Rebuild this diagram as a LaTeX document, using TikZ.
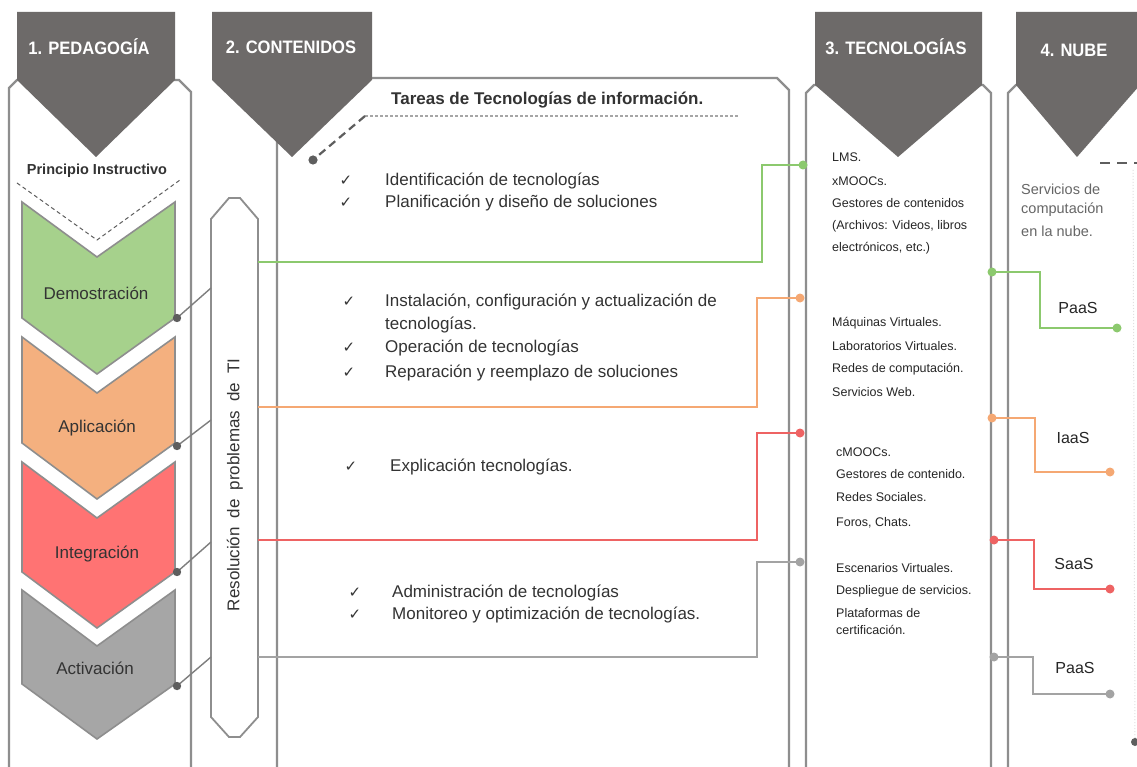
\documentclass[tikz,border=0pt]{standalone}
\usepackage{fontspec}
\setmainfont{Liberation Sans}
\newfontfamily\symfont{DejaVu Sans}
\newfontfamily\condfont[FakeStretch=0.92]{Liberation Sans}
\definecolor{hdr}{HTML}{6D6A69}
\definecolor{frm}{HTML}{8E8E8E}
\definecolor{cgreen}{HTML}{A6D18C}
\definecolor{corange}{HTML}{F4B07F}
\definecolor{cred}{HTML}{FF7373}
\definecolor{cgray}{HTML}{A6A6A6}
\definecolor{lgreen}{HTML}{8CC96E}
\definecolor{lorange}{HTML}{F5A873}
\definecolor{lred}{HTML}{EE6363}
\definecolor{lgray}{HTML}{A3A3A3}
\definecolor{txt}{HTML}{333333}
\definecolor{dk}{HTML}{5E5E5E}
\tikzset{
  frame/.style={draw=frm, line width=2.2pt},
  header/.style={fill=hdr, draw=none},
  htext/.style={text=white, font=\condfont\fontsize{18}{20}\selectfont\bfseries, inner sep=0pt},
  chevron/.style={draw=frm, line width=1.6pt},
  clabel/.style={text=txt, font=\fontsize{17}{19}\selectfont, inner sep=0pt},
  pill/.style={draw=frm, line width=1.8pt, fill=white},
  tline/.style={line width=2.2pt},
  item/.style={text=txt, font=\fontsize{17}{19}\selectfont, anchor=west, inner sep=0pt},
  chk/.style={text=txt, font=\symfont\fontsize{15}{17}\selectfont, inner sep=0pt},
  tech/.style={text=black!85, font=\fontsize{12.5}{14}\selectfont, anchor=west, inner sep=0pt},
  nube/.style={text=black!60, font=\fontsize{14.5}{16}\selectfont, anchor=west, inner sep=0pt},
  service/.style={text=black!85, font=\fontsize{16}{18}\selectfont, inner sep=0pt},
  link/.style={draw=dk!80, line width=1.4pt},
}
\begin{document}
\begin{tikzpicture}[x=1pt,y=-1pt]
\useasboundingbox (0,0) rectangle (1137,767);
\fill[white] (0,0) rectangle (1137,767);

% column frames
\draw[frame] (9,770)--(9,88)--(17,80)--(179,80)--(191,92)--(191,770);
\draw[frame] (277,770)--(277,92)--(289,78)--(777,78)--(789,90)--(789,770);
\draw[frame] (806,770)--(806,93)--(814,85)--(983,85)--(991,93)--(991,770);
\draw[frame] (1008,770)--(1008,93)--(1016,85)--(1140,85);

% headers
\fill[header] (17,12)--(175,12)--(175,80)--(96,157)--(17,80)--cycle;
\fill[header] (212,12)--(372,12)--(372,80)--(292,157)--(212,80)--cycle;
\fill[header] (815,12)--(982,12)--(982,85)--(898,157)--(815,85)--cycle;
\fill[header] (1016,12)--(1140,12)--(1140,85)--(1077,157)--(1016,85)--cycle;
\node[htext] (h1) at (89,47) {1. PEDAGOGÍA};
\node[htext] (h2) at (291,47) {2. CONTENIDOS};
\node[htext] (h3) at (896,47) {3. TECNOLOGÍAS};
\node[htext] (h4) at (1074,50) {4. NUBE};

% column 1
\node[text=txt, font=\fontsize{14.5}{16}\selectfont\bfseries, inner sep=0pt] (pi) at (97,171) {Principio Instructivo};
\draw[dk, line width=1pt, dash pattern=on 4pt off 3pt] (17,183)--(97,240)--(180,180);

\draw[chevron, fill=cgreen]  (22,202)--(97,257)--(175,202)--(175,318)--(97,374)--(22,318)--cycle;
\draw[chevron, fill=corange] (22,337)--(97,393)--(175,337)--(175,443)--(97,499)--(22,443)--cycle;
\draw[chevron, fill=cred]    (22,462)--(97,518)--(175,462)--(175,572)--(97,628)--(22,572)--cycle;
\draw[chevron, fill=cgray]   (22,590)--(97,646)--(175,590)--(175,684)--(97,739)--(22,684)--cycle;
\node[clabel] (dem) at (96,293) {Demostración};
\node[clabel] (apl) at (97,428) {Aplicación};
\node[clabel] (int) at (97,554) {Integración};
\node[clabel] (act) at (95,668) {Activación};

% pill
\draw[pill] (211,219)--(229,198)--(240,198)--(258,219)--(258,717)--(240,737)--(229,737)--(211,717)--cycle;
\node[text=txt, font=\fontsize{17}{19}\selectfont, rotate=90, inner sep=0pt] (res) at (235,485) {Resolución\hspace{9pt}de\hspace{9pt}problemas\hspace{9pt}de\hspace{9pt}TI};

% links chevrons -> pill
\coordinate (c1) at (177,318); \coordinate (p1) at (211,288);
\coordinate (c2) at (177,446); \coordinate (p2) at (211,420);
\coordinate (c3) at (177,572); \coordinate (p3) at (211,542);
\coordinate (c4) at (177,686); \coordinate (p4) at (211,657);
\draw[link] (c1)--(p1); \draw[link] (c2)--(p2); \draw[link] (c3)--(p3); \draw[link] (c4)--(p4);
\foreach \c in {c1,c2,c3,c4} \fill[dk] (\c) circle (4.2);

% column 2 texts
\node[text=txt, font=\fontsize{17}{19}\selectfont\bfseries, anchor=west, inner sep=0pt] (tit) at (391,100) {Tareas de Tecnologías de información.};
\coordinate (ul1) at (365,116); \coordinate (ul2) at (738,116); \coordinate (tdot) at (313,160);
\draw[black!35, line width=1.2pt, dash pattern=on 3pt off 2pt] (ul1)--(ul2);
\draw[dk, line width=2.2pt, dash pattern=on 8pt off 5pt] (ul1)--(tdot);
\fill[dk] (tdot) circle (4.6);

\node[chk] (k1) at (346,181) {✓};
\node[chk] (k2) at (346,203) {✓};
\node[item] (i1) at (385,181) {Identificación de tecnologías};
\node[item] (i2) at (385,203) {Planificación y diseño de soluciones};

\node[chk] (k3) at (349,302) {✓};
\node[chk] (k4) at (349,348) {✓};
\node[chk] (k5) at (349,373) {✓};
\node[item] (i3) at (385,302) {Instalación, configuración y actualización de};
\node[item] (i3b) at (385,325) {tecnologías.};
\node[item] (i4) at (385,348) {Operación de tecnologías};
\node[item] (i5) at (385,373) {Reparación y reemplazo de soluciones};

\node[chk] (k6) at (351,467) {✓};
\node[item] (i6) at (390,467) {Explicación tecnologías.};

\node[chk] (k7) at (355,593) {✓};
\node[chk] (k8) at (355,615) {✓};
\node[item] (i7) at (392,593) {Administración de tecnologías};
\node[item] (i8) at (392,615) {Monitoreo y optimización de tecnologías.};

% column 2 -> 3 connectors
\coordinate (gA) at (258,262); \coordinate (gB) at (762,262); \coordinate (gC) at (762,165); \coordinate (gD) at (803,165);
\coordinate (oA) at (258,407); \coordinate (oB) at (757,407); \coordinate (oC) at (757,298); \coordinate (oD) at (800,298);
\coordinate (rA) at (258,540); \coordinate (rB) at (757,540); \coordinate (rC) at (757,433); \coordinate (rD) at (800,433);
\coordinate (yA) at (258,657); \coordinate (yB) at (757,657); \coordinate (yC) at (757,562); \coordinate (yD) at (800,562);
\draw[tline, lgreen] (gA)--(gB)--(gC)--(gD); \fill[lgreen] (gD) circle (4.5);
\draw[tline, lorange] (oA)--(oB)--(oC)--(oD); \fill[lorange] (oD) circle (4.5);
\draw[tline, lred] (rA)--(rB)--(rC)--(rD); \fill[lred] (rD) circle (4.5);
\draw[tline, lgray] (yA)--(yB)--(yC)--(yD); \fill[lgray] (yD) circle (4.5);

% column 3 texts
\node[tech] at (832,157) {LMS.};
\node[tech] at (832,181) {xMOOCs.};
\node[tech] at (832,203) {Gestores de contenidos};
\node[tech] at (832,226) {(Archivos: Videos, libros};
\node[tech] at (832,248) {electrónicos, etc.)};

\node[tech] at (832,323) {Máquinas Virtuales.};
\node[tech] at (832,346) {Laboratorios Virtuales.};
\node[tech] at (832,369) {Redes de computación.};
\node[tech] at (832,392) {Servicios Web.};

\node[tech] at (836,452) {cMOOCs.};
\node[tech] at (836,474) {Gestores de contenido.};
\node[tech] at (836,497) {Redes Sociales.};
\node[tech] at (836,523) {Foros, Chats.};

\node[tech] at (836,568) {Escenarios Virtuales.};
\node[tech] at (836,591) {Despliegue de servicios.};
\node[tech] at (836,613) {Plataformas de};
\node[tech] at (836,630) {certificación.};

% column 4
\node[nube] at (1021,189) {Servicios de};
\node[nube] at (1021,210) {computación};
\node[nube] at (1021,231) {en la nube.};

\coordinate (g2A) at (992,272); \coordinate (g2B) at (1040,272); \coordinate (g2C) at (1040,328); \coordinate (g2D) at (1117,328);
\coordinate (o2A) at (992,418); \coordinate (o2B) at (1035,418); \coordinate (o2C) at (1035,472); \coordinate (o2D) at (1110,472);
\coordinate (r2A) at (994,540); \coordinate (r2B) at (1034,540); \coordinate (r2C) at (1034,589); \coordinate (r2D) at (1110,589);
\coordinate (y2A) at (994,657); \coordinate (y2B) at (1033,657); \coordinate (y2C) at (1033,694); \coordinate (y2D) at (1110,694);
\draw[tline, lgreen] (g2A)--(g2B)--(g2C)--(g2D); \fill[lgreen] (g2A) circle (4.5); \fill[lgreen] (g2D) circle (4.5);
\draw[tline, lorange] (o2A)--(o2B)--(o2C)--(o2D); \fill[lorange] (o2A) circle (4.5); \fill[lorange] (o2D) circle (4.5);
\draw[tline, lred] (r2A)--(r2B)--(r2C)--(r2D); \fill[lred] (r2A) circle (4.5); \fill[lred] (r2D) circle (4.5);
\draw[tline, lgray] (y2A)--(y2B)--(y2C)--(y2D); \fill[lgray] (y2A) circle (4.5); \fill[lgray] (y2D) circle (4.5);

\node[service] (s1) at (1078,308) {PaaS};
\node[service] (s2) at (1073,438) {IaaS};
\node[service] (s3) at (1074,564) {SaaS};
\node[service] (s4) at (1075,668) {PaaS};

% right edge details
\coordinate (e1) at (1100,163); \coordinate (e2) at (1140,163);
\coordinate (v1) at (1133,170); \coordinate (v2) at (1135,742);
\draw[dk, line width=2pt, dash pattern=on 10pt off 7pt] (e1)--(e2);
\draw[black!12, line width=1pt, dotted] (v1)--(v2);
\fill[dk] (v2) circle (4);
\end{tikzpicture}
\end{document}
